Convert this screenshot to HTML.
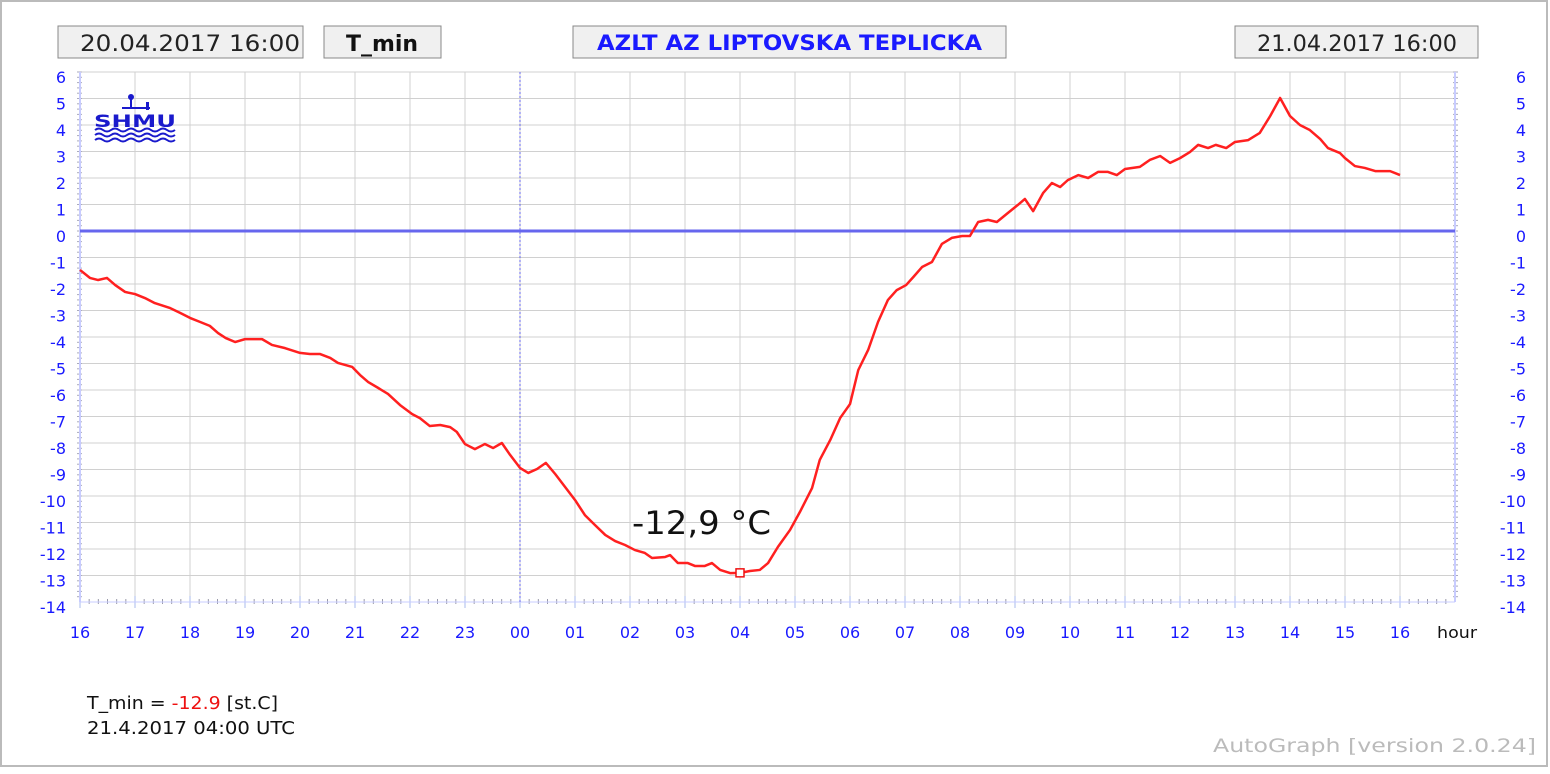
<!DOCTYPE html>
<html><head><meta charset="utf-8"><style>
body{margin:0;background:#fff;}
svg text{font-family:"DejaVu Sans","Liberation Sans",sans-serif;}
</style></head><body>
<svg id="chart" width="1550" height="769" xmlns="http://www.w3.org/2000/svg">
<rect x="1" y="1" width="1546" height="765" fill="#fff" stroke="#bbb" stroke-width="2"/>
<g>
<rect x="58" y="26" width="245" height="32" fill="#f0f0f0" stroke="#888"/>
<text x="80" y="51" font-size="22" textLength="220" lengthAdjust="spacingAndGlyphs" fill="#222">20.04.2017 16:00</text>
<rect x="324" y="26" width="117" height="32" fill="#f0f0f0" stroke="#888"/>
<text x="346" y="51" font-size="22" font-weight="bold" textLength="72" lengthAdjust="spacingAndGlyphs" fill="#111">T_min</text>
<rect x="573" y="26" width="433" height="32" fill="#f0f0f0" stroke="#888"/>
<text x="597" y="50" font-size="21" font-weight="bold" textLength="385" lengthAdjust="spacingAndGlyphs" fill="#1a1aff">AZLT AZ LIPTOVSKA TEPLICKA</text>
<rect x="1235" y="26" width="243" height="32" fill="#f0f0f0" stroke="#888"/>
<text x="1257" y="51" font-size="22" textLength="200" lengthAdjust="spacingAndGlyphs" fill="#222">21.04.2017 16:00</text>
</g>
<g id="grid"></g>
<g id="axes"></g>
<g fill="#1a1acc">
<rect x="122" y="107" width="28" height="2"/><rect x="130" y="97" width="2" height="12"/><circle cx="131" cy="97" r="3"/><rect x="146" y="102" width="3" height="8"/>
<text x="94" y="127" font-size="17" font-weight="900" fill="#1a1acc" font-family="Liberation Sans" textLength="82" lengthAdjust="spacingAndGlyphs">SHMU</text>
<path d="M95 130 q4 -3 8 0 t8 0 t8 0 t8 0 t8 0 t8 0 t8 0 t8 0 t8 0 t8 0 M95 135 q4 -3 8 0 t8 0 t8 0 t8 0 t8 0 t8 0 t8 0 t8 0 t8 0 t8 0 M95 140 q4 -3 8 0 t8 0 t8 0 t8 0 t8 0 t8 0 t8 0 t8 0 t8 0 t8 0" stroke="#1a1acc" stroke-width="2" fill="none"/>
</g>
<g id="series"></g>
<text x="632" y="534" font-size="32" textLength="139" lengthAdjust="spacingAndGlyphs" fill="#111" font-family="Liberation Sans">-12,9 °C</text>
<text x="1437" y="638" font-size="16" textLength="40" lengthAdjust="spacingAndGlyphs" fill="#111">hour</text>
<text x="87" y="709" font-size="18" textLength="191" lengthAdjust="spacingAndGlyphs" fill="#111">T_min = <tspan fill="#ee1111">-12.9</tspan> [st.C]</text>
<text x="87" y="734" font-size="18" textLength="208" lengthAdjust="spacingAndGlyphs" fill="#111">21.4.2017 04:00 UTC</text>
<text x="1213" y="752" font-size="19" textLength="323" lengthAdjust="spacingAndGlyphs" fill="#bbb" font-family="Liberation Mono">AutoGraph [version 2.0.24]</text>
</svg>
<script>
const hourLabels=["16","17","18","19","20","21","22","23","00","01","02","03","04","05","06","07","08","09","10","11","12","13","14","15","16"];
const yTicks=[6,5,4,3,2,1,0,-1,-2,-3,-4,-5,-6,-7,-8,-9,-10,-11,-12,-13,-14];
const times=[0,.18,.33,.49,.64,.82,1,1.18,1.36,1.64,1.82,2,2.18,2.36,2.51,2.65,2.82,3,3.31,3.49,3.73,4,4.18,4.36,4.55,4.69,4.95,5.09,5.24,5.42,5.6,5.82,6.04,6.18,6.36,6.55,6.73,6.85,7,7.18,7.36,7.51,7.67,7.82,8,8.15,8.31,8.47,8.64,8.82,9,9.18,9.36,9.55,9.73,9.91,10.09,10.27,10.4,10.64,10.73,10.87,11.05,11.18,11.36,11.49,11.64,11.82,12,12.18,12.36,12.51,12.69,12.91,13.09,13.31,13.45,13.64,13.82,14,14.15,14.33,14.51,14.69,14.85,15.02,15.15,15.31,15.49,15.67,15.85,16.04,16.18,16.33,16.51,16.67,16.87,17.05,17.18,17.33,17.51,17.67,17.82,17.96,18.15,18.33,18.51,18.69,18.85,19,19.27,19.45,19.64,19.82,20,20.18,20.33,20.51,20.65,20.84,21,21.24,21.45,21.64,21.82,22,22.18,22.36,22.55,22.69,22.91,23,23.18,23.36,23.55,23.82,24];
const temps=[-1.47,-1.77,-1.85,-1.77,-2.04,-2.3,-2.38,-2.53,-2.72,-2.91,-3.09,-3.28,-3.43,-3.58,-3.85,-4.04,-4.19,-4.08,-4.08,-4.3,-4.42,-4.6,-4.64,-4.64,-4.79,-4.98,-5.13,-5.43,-5.7,-5.92,-6.15,-6.57,-6.91,-7.06,-7.36,-7.32,-7.4,-7.58,-8.04,-8.23,-8.04,-8.19,-8,-8.45,-8.94,-9.13,-8.98,-8.75,-9.17,-9.66,-10.15,-10.72,-11.09,-11.47,-11.7,-11.85,-12.04,-12.15,-12.34,-12.3,-12.23,-12.53,-12.53,-12.64,-12.64,-12.53,-12.79,-12.91,-12.9,-12.83,-12.79,-12.53,-11.92,-11.28,-10.6,-9.7,-8.64,-7.89,-7.06,-6.53,-5.25,-4.49,-3.43,-2.6,-2.23,-2.04,-1.74,-1.36,-1.17,-.49,-.26,-.19,-.19,.34,.42,.34,.68,.98,1.21,.75,1.43,1.81,1.66,1.92,2.11,2,2.23,2.23,2.11,2.34,2.42,2.68,2.83,2.57,2.75,2.98,3.25,3.13,3.25,3.13,3.36,3.43,3.7,4.34,5.02,4.34,4,3.81,3.47,3.13,2.94,2.75,2.45,2.38,2.26,2.26,2.11];
const minPoint=[12,-12.9];
const NS="http://www.w3.org/2000/svg";
const X0=80,XW=55,Y0=72,YU=26.5,XR=1455,YB=602;
const xs=h=>X0+h*XW, ys=v=>Y0+(6-v)*YU;
function mk(tag,attrs,parent){const e=document.createElementNS(NS,tag);for(const k in attrs)e.setAttribute(k,attrs[k]);parent.appendChild(e);return e;}
const grid=document.getElementById('grid'),axes=document.getElementById('axes'),series=document.getElementById('series');
yTicks.forEach(v=>{
 const l=mk('line',{x1:X0,x2:XR,y1:ys(v),y2:ys(v),stroke:'#d0d0d0','stroke-width':1},grid);
 
 
 const t=mk('text',{x:66,y:ys(v)+11,'font-size':16,'text-anchor':'end',fill:'#1a1aff'},axes);t.textContent=v;
 
 
 const t2=mk('text',{x:1526,y:ys(v)+11,'font-size':16,'text-anchor':'end',fill:'#1a1aff'},axes);t2.textContent=v;
 
 
 for(let k=0;k<5&&v>-14;k++){const yy=ys(v)+k*YU/5;mk('line',{x1:X0-3,x2:X0+2,y1:yy,y2:yy,stroke:'#aab',},axes);mk('line',{x1:XR-2,x2:XR+3,y1:yy,y2:yy,stroke:'#aab'},axes);}
});
hourLabels.forEach((lab,i)=>{
 const x=xs(i);
 const l=mk('line',{x1:x,x2:x,y1:Y0,y2:YB,stroke:'#d0d0d0'},grid);
 
 
 const t=mk('text',{x:x,y:638,'font-size':16,'text-anchor':'middle',fill:'#1a1aff'},axes);t.textContent=lab;
 
 
 mk('line',{x1:x,x2:x,y1:YB-6,y2:YB+6,stroke:'#aabbee'},axes);
 for(let k=1;k<6;k++){const xx=x+k*XW/6;mk('line',{x1:xx,x2:xx,y1:YB-3,y2:YB+2,stroke:'#99a'},axes);}
});
mk('line',{x1:X0,x2:X0,y1:Y0,y2:YB,stroke:'#c8ccff','stroke-width':2},axes);
mk('line',{x1:XR,x2:XR,y1:Y0,y2:YB,stroke:'#c8ccff','stroke-width':2},axes);
mk('line',{x1:X0,x2:XR,y1:YB,y2:YB,stroke:'#c8ccff','stroke-width':1},axes);
const mid=mk('line',{x1:xs(8),x2:xs(8),y1:Y0,y2:YB,stroke:'#6666ee','stroke-dasharray':'2,2'},axes);


const z=mk('line',{x1:X0,x2:XR,y1:ys(0),y2:ys(0),stroke:'#6666ee','stroke-width':3},axes);


const p=mk('polyline',{points:times.map((t,i)=>xs(t)+','+ys(temps[i])).join(' '),fill:'none',stroke:'#ff2020','stroke-width':2.5,'stroke-linejoin':'round'},series);


const m=mk('rect',{x:xs(minPoint[0])-4,y:ys(minPoint[1])-4,width:8,height:8,fill:'#fff',stroke:'#ee1111','stroke-width':1.5},series);


</script>
</body></html>
